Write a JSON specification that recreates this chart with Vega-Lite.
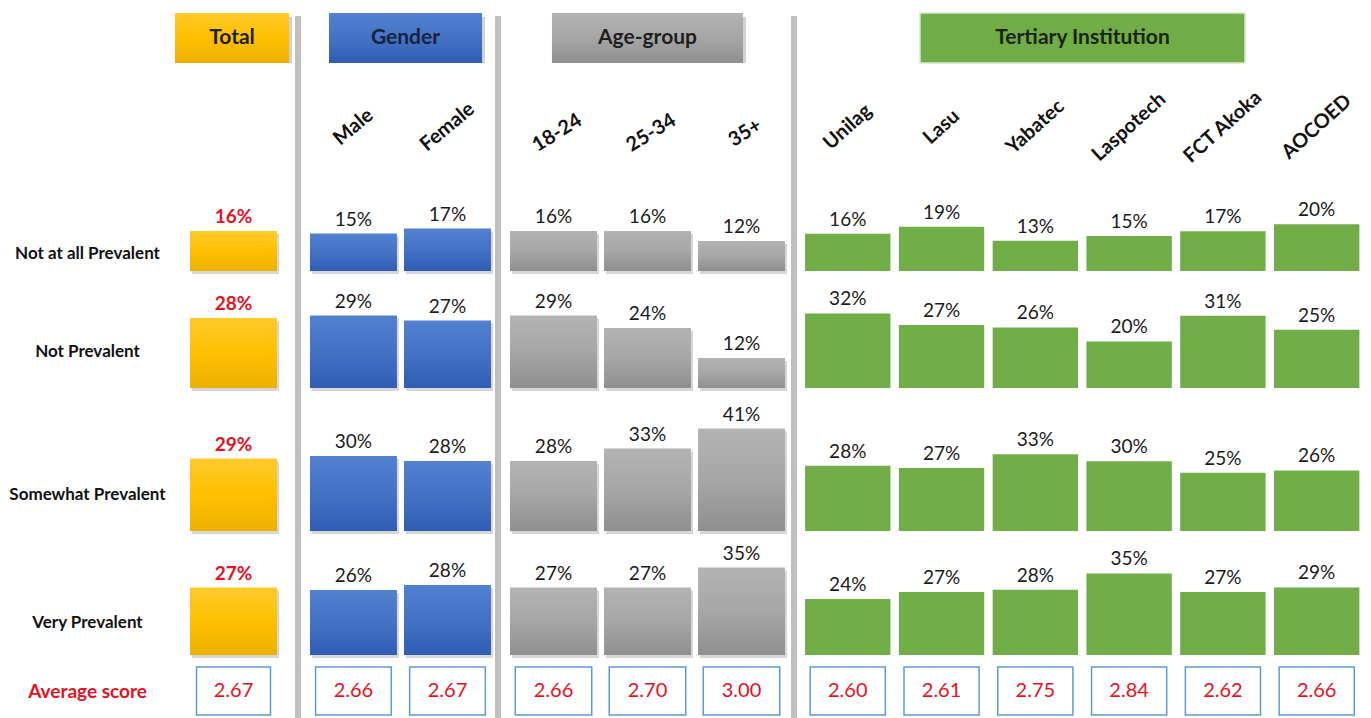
{
  "$schema": "https://vega.github.io/schema/vega-lite/v6.json",
  "padding": {"left": 0, "top": 12, "right": 0, "bottom": 0},
  "background": "white",
  "config": {"view": {"stroke": null}, "font": "Lato", "text": {"font": "Lato"}},
  "datasets": {
    "groups": [
      {"group": "Total"}, {"group": "Gender"}, {"group": "Age-group"}, {"group": "Tertiary Institution"}
    ],
    "shares": [
      {"group": "Total", "column": "Total", "response": "Not at all Prevalent", "share": 0.16},
      {"group": "Total", "column": "Total", "response": "Not Prevalent", "share": 0.28},
      {"group": "Total", "column": "Total", "response": "Somewhat Prevalent", "share": 0.29},
      {"group": "Total", "column": "Total", "response": "Very Prevalent", "share": 0.27},
      {"group": "Gender", "column": "Male", "response": "Not at all Prevalent", "share": 0.15},
      {"group": "Gender", "column": "Male", "response": "Not Prevalent", "share": 0.29},
      {"group": "Gender", "column": "Male", "response": "Somewhat Prevalent", "share": 0.30},
      {"group": "Gender", "column": "Male", "response": "Very Prevalent", "share": 0.26},
      {"group": "Gender", "column": "Female", "response": "Not at all Prevalent", "share": 0.17},
      {"group": "Gender", "column": "Female", "response": "Not Prevalent", "share": 0.27},
      {"group": "Gender", "column": "Female", "response": "Somewhat Prevalent", "share": 0.28},
      {"group": "Gender", "column": "Female", "response": "Very Prevalent", "share": 0.28},
      {"group": "Age-group", "column": "18-24", "response": "Not at all Prevalent", "share": 0.16},
      {"group": "Age-group", "column": "18-24", "response": "Not Prevalent", "share": 0.29},
      {"group": "Age-group", "column": "18-24", "response": "Somewhat Prevalent", "share": 0.28},
      {"group": "Age-group", "column": "18-24", "response": "Very Prevalent", "share": 0.27},
      {"group": "Age-group", "column": "25-34", "response": "Not at all Prevalent", "share": 0.16},
      {"group": "Age-group", "column": "25-34", "response": "Not Prevalent", "share": 0.24},
      {"group": "Age-group", "column": "25-34", "response": "Somewhat Prevalent", "share": 0.33},
      {"group": "Age-group", "column": "25-34", "response": "Very Prevalent", "share": 0.27},
      {"group": "Age-group", "column": "35+", "response": "Not at all Prevalent", "share": 0.12},
      {"group": "Age-group", "column": "35+", "response": "Not Prevalent", "share": 0.12},
      {"group": "Age-group", "column": "35+", "response": "Somewhat Prevalent", "share": 0.41},
      {"group": "Age-group", "column": "35+", "response": "Very Prevalent", "share": 0.35},
      {"group": "Tertiary Institution", "column": "Unilag", "response": "Not at all Prevalent", "share": 0.16},
      {"group": "Tertiary Institution", "column": "Unilag", "response": "Not Prevalent", "share": 0.32},
      {"group": "Tertiary Institution", "column": "Unilag", "response": "Somewhat Prevalent", "share": 0.28},
      {"group": "Tertiary Institution", "column": "Unilag", "response": "Very Prevalent", "share": 0.24},
      {"group": "Tertiary Institution", "column": "Lasu", "response": "Not at all Prevalent", "share": 0.19},
      {"group": "Tertiary Institution", "column": "Lasu", "response": "Not Prevalent", "share": 0.27},
      {"group": "Tertiary Institution", "column": "Lasu", "response": "Somewhat Prevalent", "share": 0.27},
      {"group": "Tertiary Institution", "column": "Lasu", "response": "Very Prevalent", "share": 0.27},
      {"group": "Tertiary Institution", "column": "Yabatec", "response": "Not at all Prevalent", "share": 0.13},
      {"group": "Tertiary Institution", "column": "Yabatec", "response": "Not Prevalent", "share": 0.26},
      {"group": "Tertiary Institution", "column": "Yabatec", "response": "Somewhat Prevalent", "share": 0.33},
      {"group": "Tertiary Institution", "column": "Yabatec", "response": "Very Prevalent", "share": 0.28},
      {"group": "Tertiary Institution", "column": "Laspotech", "response": "Not at all Prevalent", "share": 0.15},
      {"group": "Tertiary Institution", "column": "Laspotech", "response": "Not Prevalent", "share": 0.20},
      {"group": "Tertiary Institution", "column": "Laspotech", "response": "Somewhat Prevalent", "share": 0.30},
      {"group": "Tertiary Institution", "column": "Laspotech", "response": "Very Prevalent", "share": 0.35},
      {"group": "Tertiary Institution", "column": "FCT Akoka", "response": "Not at all Prevalent", "share": 0.17},
      {"group": "Tertiary Institution", "column": "FCT Akoka", "response": "Not Prevalent", "share": 0.31},
      {"group": "Tertiary Institution", "column": "FCT Akoka", "response": "Somewhat Prevalent", "share": 0.25},
      {"group": "Tertiary Institution", "column": "FCT Akoka", "response": "Very Prevalent", "share": 0.27},
      {"group": "Tertiary Institution", "column": "AOCOED", "response": "Not at all Prevalent", "share": 0.20},
      {"group": "Tertiary Institution", "column": "AOCOED", "response": "Not Prevalent", "share": 0.25},
      {"group": "Tertiary Institution", "column": "AOCOED", "response": "Somewhat Prevalent", "share": 0.26},
      {"group": "Tertiary Institution", "column": "AOCOED", "response": "Very Prevalent", "share": 0.29}
    ],
    "scores": [
      {"group": "Total", "column": "Total", "score": 2.67},
      {"group": "Gender", "column": "Male", "score": 2.66},
      {"group": "Gender", "column": "Female", "score": 2.67},
      {"group": "Age-group", "column": "18-24", "score": 2.66},
      {"group": "Age-group", "column": "25-34", "score": 2.70},
      {"group": "Age-group", "column": "35+", "score": 3.00},
      {"group": "Tertiary Institution", "column": "Unilag", "score": 2.60},
      {"group": "Tertiary Institution", "column": "Lasu", "score": 2.61},
      {"group": "Tertiary Institution", "column": "Yabatec", "score": 2.75},
      {"group": "Tertiary Institution", "column": "Laspotech", "score": 2.84},
      {"group": "Tertiary Institution", "column": "FCT Akoka", "score": 2.62},
      {"group": "Tertiary Institution", "column": "AOCOED", "score": 2.66}
    ]
  },
  "spacing": 0,
  "hconcat": [
    {
      "spacing": 0,
      "bounds": "flush",
      "vconcat": [
        {"width": 175, "height": 201, "data": {"values": []}, "mark": "point", "encoding": {}},
        {"width": 175, "height": 80, "data": {"name": "shares"},
         "transform": [{"filter": "datum.group === 'Total' && datum.response === 'Not at all Prevalent'"}],
         "mark": {"type": "text", "fontSize": 17, "fontWeight": "bold", "color": "#111111"},
         "encoding": {"text": {"field": "response"}}},
        {"width": 175, "height": 116, "data": {"name": "shares"},
         "transform": [{"filter": "datum.group === 'Total' && datum.response === 'Not Prevalent'"}],
         "mark": {"type": "text", "fontSize": 17, "fontWeight": "bold", "color": "#111111"},
         "encoding": {"text": {"field": "response"}}},
        {"width": 175, "height": 170, "data": {"name": "shares"},
         "transform": [{"filter": "datum.group === 'Total' && datum.response === 'Somewhat Prevalent'"}],
         "mark": {"type": "text", "fontSize": 17, "fontWeight": "bold", "color": "#111111"},
         "encoding": {"text": {"field": "response"}}},
        {"width": 175, "height": 86, "data": {"name": "shares"},
         "transform": [{"filter": "datum.group === 'Total' && datum.response === 'Very Prevalent'"}],
         "mark": {"type": "text", "fontSize": 17, "fontWeight": "bold", "color": "#111111"},
         "encoding": {"text": {"field": "response"}}},
        {"width": 175, "height": 52, "data": {"name": "groups"},
         "transform": [{"filter": "datum.group === 'Total'"}],
         "mark": {"type": "text", "text": "Average score", "fontSize": 19, "fontWeight": "bold", "color": "#e3121f"},
         "encoding": {}}
      ]
    },
    {
      "spacing": 0,
      "bounds": "flush",
      "vconcat": [
        {"width": 120, "height": 50, "data": {"name": "groups"},
         "transform": [{"filter": "datum.group === 'Total'"}],
         "encoding": {"x": {"field": "group", "type": "nominal", "axis": null, "scale": {"type": "band", "domain": ["Total"], "paddingInner": 0, "paddingOuter": 0.026, "align": 0}}},
         "layer": [
           {"mark": {"type": "bar", "color": "#000000", "opacity": 0.18, "xOffset": 3, "yOffset": 4}},
           {"mark": {"type": "bar", "fill": {"gradient": "linear", "x1": 0, "y1": 0, "x2": 0, "y2": 1, "stops": [{"offset": 0, "color": "#ffca2c"}, {"offset": 0.5, "color": "#ffc000"}, {"offset": 1, "color": "#ecb100"}]}}},
           {"mark": {"type": "text", "fontSize": 21, "fontWeight": "bold", "color": "#1f1f1f"}, "encoding": {"text": {"field": "group"}}}
         ]},
        {"width": 120, "height": 128, "data": {"values": []}, "mark": "point", "encoding": {}},
        {"width": 120, "height": 80, "data": {"name": "shares"},
         "transform": [{"filter": "datum.group === 'Total' && datum.response === 'Not at all Prevalent'"}],
         "encoding": {
           "x": {"field": "column", "type": "nominal", "axis": null, "scale": {"type": "band", "domain": ["Total"], "paddingInner": 0.075, "paddingOuter": 0.1755, "align": 0.4545}},
           "y": {"field": "share", "type": "quantitative", "axis": null, "scale": {"domain": [0, 0.32], "nice": false}}},
         "layer": [
           {"mark": {"type": "bar", "color": "#000000", "opacity": 0.16, "xOffset": 2, "yOffset": 3}},
           {"mark": {"type": "bar", "fill": {"gradient": "linear", "x1": 0, "y1": 0, "x2": 0, "y2": 1, "stops": [{"offset": 0, "color": "#ffca2c"}, {"offset": 0.5, "color": "#ffc000"}, {"offset": 1, "color": "#ecb100"}]}}},
           {"mark": {"type": "text", "baseline": "alphabetic", "dy": -8, "fontSize": 19, "fontWeight": "bold", "color": "#e3121f"}, "encoding": {"text": {"field": "share", "format": ".0%"}}}
         ]},
        {"width": 120, "height": 117, "data": {"name": "shares"},
         "transform": [{"filter": "datum.group === 'Total' && datum.response === 'Not Prevalent'"}],
         "encoding": {
           "x": {"field": "column", "type": "nominal", "axis": null, "scale": {"type": "band", "domain": ["Total"], "paddingInner": 0.075, "paddingOuter": 0.1755, "align": 0.4545}},
           "y": {"field": "share", "type": "quantitative", "axis": null, "scale": {"domain": [0, 0.468], "nice": false}}},
         "layer": [
           {"mark": {"type": "bar", "color": "#000000", "opacity": 0.16, "xOffset": 2, "yOffset": 3}},
           {"mark": {"type": "bar", "fill": {"gradient": "linear", "x1": 0, "y1": 0, "x2": 0, "y2": 1, "stops": [{"offset": 0, "color": "#ffca2c"}, {"offset": 0.5, "color": "#ffc000"}, {"offset": 1, "color": "#ecb100"}]}}},
           {"mark": {"type": "text", "baseline": "alphabetic", "dy": -8, "fontSize": 19, "fontWeight": "bold", "color": "#e3121f"}, "encoding": {"text": {"field": "share", "format": ".0%"}}}
         ]},
        {"width": 120, "height": 143, "data": {"name": "shares"},
         "transform": [{"filter": "datum.group === 'Total' && datum.response === 'Somewhat Prevalent'"}],
         "encoding": {
           "x": {"field": "column", "type": "nominal", "axis": null, "scale": {"type": "band", "domain": ["Total"], "paddingInner": 0.075, "paddingOuter": 0.1755, "align": 0.4545}},
           "y": {"field": "share", "type": "quantitative", "axis": null, "scale": {"domain": [0, 0.572], "nice": false}}},
         "layer": [
           {"mark": {"type": "bar", "color": "#000000", "opacity": 0.16, "xOffset": 2, "yOffset": 3}},
           {"mark": {"type": "bar", "fill": {"gradient": "linear", "x1": 0, "y1": 0, "x2": 0, "y2": 1, "stops": [{"offset": 0, "color": "#ffca2c"}, {"offset": 0.5, "color": "#ffc000"}, {"offset": 1, "color": "#ecb100"}]}}},
           {"mark": {"type": "text", "baseline": "alphabetic", "dy": -8, "fontSize": 19, "fontWeight": "bold", "color": "#e3121f"}, "encoding": {"text": {"field": "share", "format": ".0%"}}}
         ]},
        {"width": 120, "height": 124, "data": {"name": "shares"},
         "transform": [{"filter": "datum.group === 'Total' && datum.response === 'Very Prevalent'"}],
         "encoding": {
           "x": {"field": "column", "type": "nominal", "axis": null, "scale": {"type": "band", "domain": ["Total"], "paddingInner": 0.075, "paddingOuter": 0.1755, "align": 0.4545}},
           "y": {"field": "share", "type": "quantitative", "axis": null, "scale": {"domain": [0, 0.496], "nice": false}}},
         "layer": [
           {"mark": {"type": "bar", "color": "#000000", "opacity": 0.16, "xOffset": 2, "yOffset": 3}},
           {"mark": {"type": "bar", "fill": {"gradient": "linear", "x1": 0, "y1": 0, "x2": 0, "y2": 1, "stops": [{"offset": 0, "color": "#ffca2c"}, {"offset": 0.5, "color": "#ffc000"}, {"offset": 1, "color": "#ecb100"}]}}},
           {"mark": {"type": "text", "baseline": "alphabetic", "dy": -8, "fontSize": 19, "fontWeight": "bold", "color": "#e3121f"}, "encoding": {"text": {"field": "share", "format": ".0%"}}}
         ]},
        {"width": 120, "height": 12, "data": {"values": []}, "mark": "point", "encoding": {}},
        {"width": 120, "height": 48, "data": {"name": "scores"},
         "transform": [{"filter": "datum.group === 'Total'"}],
         "encoding": {"x": {"field": "column", "type": "nominal", "axis": null, "scale": {"type": "band", "domain": ["Total"], "paddingInner": 0.075, "paddingOuter": 0.1755, "align": 0.4545}}},
         "layer": [
           {"mark": {"type": "bar", "width": {"band": 0.85}, "fill": "#ffffff", "stroke": "#5b9bd5", "strokeWidth": 1.5}},
           {"mark": {"type": "text", "fontSize": 20, "color": "#e3121f"}, "encoding": {"text": {"field": "score", "format": ".2f"}}}
         ]}
      ]
    },
    {
      "spacing": 0,
      "bounds": "flush",
      "vconcat": [
        {"width": 6, "height": 3, "data": {"values": []}, "mark": "point", "encoding": {}},
        {"width": 6, "height": 703, "data": {"values": []}, "mark": "point", "encoding": {}, "view": {"fill": "#c0c0c0", "stroke": null}}
      ]
    },
    {
      "spacing": 0,
      "bounds": "flush",
      "vconcat": [
        {"width": 194, "height": 50, "data": {"name": "groups"},
         "transform": [{"filter": "datum.group === 'Gender'"}],
         "encoding": {"x": {"field": "group", "type": "nominal", "axis": null, "scale": {"type": "band", "domain": ["Gender"], "paddingInner": 0, "paddingOuter": 0.134, "align": 0.683}}},
         "layer": [
           {"mark": {"type": "bar", "color": "#000000", "opacity": 0.18, "xOffset": 3, "yOffset": 4}},
           {"mark": {"type": "bar", "fill": {"gradient": "linear", "x1": 0, "y1": 0, "x2": 0, "y2": 1, "stops": [{"offset": 0, "color": "#5281d0"}, {"offset": 0.5, "color": "#4472c4"}, {"offset": 1, "color": "#2f5db4"}]}}},
           {"mark": {"type": "text", "fontSize": 21, "fontWeight": "bold", "color": "#152240"}, "encoding": {"text": {"field": "group"}}}
         ]},
        {"width": 194, "height": 128, "data": {"name": "scores"},
         "transform": [{"filter": "datum.group === 'Gender'"}],
         "mark": {"type": "text", "align": "center", "baseline": "middle", "angle": 320, "fontSize": 20, "fontWeight": "bold", "color": "#111111"},
         "encoding": {
           "x": {"field": "column", "type": "nominal", "axis": null, "scale": {"type": "band", "domain": ["Male", "Female"], "paddingInner": 0.075, "paddingOuter": 0.069, "align": 0.69}},
           "text": {"field": "column"}}},
        {"width": 194, "height": 80, "data": {"name": "shares"},
         "transform": [{"filter": "datum.group === 'Gender' && datum.response === 'Not at all Prevalent'"}],
         "encoding": {
           "x": {"field": "column", "type": "nominal", "axis": null, "scale": {"type": "band", "domain": ["Male", "Female"], "paddingInner": 0.075, "paddingOuter": 0.069, "align": 0.69}},
           "y": {"field": "share", "type": "quantitative", "axis": null, "scale": {"domain": [0, 0.32], "nice": false}}},
         "layer": [
           {"mark": {"type": "bar", "color": "#000000", "opacity": 0.16, "xOffset": 2, "yOffset": 3}},
           {"mark": {"type": "bar", "fill": {"gradient": "linear", "x1": 0, "y1": 0, "x2": 0, "y2": 1, "stops": [{"offset": 0, "color": "#5281d0"}, {"offset": 0.5, "color": "#4472c4"}, {"offset": 1, "color": "#2f5db4"}]}}},
           {"mark": {"type": "text", "baseline": "alphabetic", "dy": -8, "fontSize": 19, "color": "#1a1a1a"}, "encoding": {"text": {"field": "share", "format": ".0%"}}}
         ]},
        {"width": 194, "height": 117, "data": {"name": "shares"},
         "transform": [{"filter": "datum.group === 'Gender' && datum.response === 'Not Prevalent'"}],
         "encoding": {
           "x": {"field": "column", "type": "nominal", "axis": null, "scale": {"type": "band", "domain": ["Male", "Female"], "paddingInner": 0.075, "paddingOuter": 0.069, "align": 0.69}},
           "y": {"field": "share", "type": "quantitative", "axis": null, "scale": {"domain": [0, 0.468], "nice": false}}},
         "layer": [
           {"mark": {"type": "bar", "color": "#000000", "opacity": 0.16, "xOffset": 2, "yOffset": 3}},
           {"mark": {"type": "bar", "fill": {"gradient": "linear", "x1": 0, "y1": 0, "x2": 0, "y2": 1, "stops": [{"offset": 0, "color": "#5281d0"}, {"offset": 0.5, "color": "#4472c4"}, {"offset": 1, "color": "#2f5db4"}]}}},
           {"mark": {"type": "text", "baseline": "alphabetic", "dy": -8, "fontSize": 19, "color": "#1a1a1a"}, "encoding": {"text": {"field": "share", "format": ".0%"}}}
         ]},
        {"width": 194, "height": 143, "data": {"name": "shares"},
         "transform": [{"filter": "datum.group === 'Gender' && datum.response === 'Somewhat Prevalent'"}],
         "encoding": {
           "x": {"field": "column", "type": "nominal", "axis": null, "scale": {"type": "band", "domain": ["Male", "Female"], "paddingInner": 0.075, "paddingOuter": 0.069, "align": 0.69}},
           "y": {"field": "share", "type": "quantitative", "axis": null, "scale": {"domain": [0, 0.572], "nice": false}}},
         "layer": [
           {"mark": {"type": "bar", "color": "#000000", "opacity": 0.16, "xOffset": 2, "yOffset": 3}},
           {"mark": {"type": "bar", "fill": {"gradient": "linear", "x1": 0, "y1": 0, "x2": 0, "y2": 1, "stops": [{"offset": 0, "color": "#5281d0"}, {"offset": 0.5, "color": "#4472c4"}, {"offset": 1, "color": "#2f5db4"}]}}},
           {"mark": {"type": "text", "baseline": "alphabetic", "dy": -8, "fontSize": 19, "color": "#1a1a1a"}, "encoding": {"text": {"field": "share", "format": ".0%"}}}
         ]},
        {"width": 194, "height": 124, "data": {"name": "shares"},
         "transform": [{"filter": "datum.group === 'Gender' && datum.response === 'Very Prevalent'"}],
         "encoding": {
           "x": {"field": "column", "type": "nominal", "axis": null, "scale": {"type": "band", "domain": ["Male", "Female"], "paddingInner": 0.075, "paddingOuter": 0.069, "align": 0.69}},
           "y": {"field": "share", "type": "quantitative", "axis": null, "scale": {"domain": [0, 0.496], "nice": false}}},
         "layer": [
           {"mark": {"type": "bar", "color": "#000000", "opacity": 0.16, "xOffset": 2, "yOffset": 3}},
           {"mark": {"type": "bar", "fill": {"gradient": "linear", "x1": 0, "y1": 0, "x2": 0, "y2": 1, "stops": [{"offset": 0, "color": "#5281d0"}, {"offset": 0.5, "color": "#4472c4"}, {"offset": 1, "color": "#2f5db4"}]}}},
           {"mark": {"type": "text", "baseline": "alphabetic", "dy": -8, "fontSize": 19, "color": "#1a1a1a"}, "encoding": {"text": {"field": "share", "format": ".0%"}}}
         ]},
        {"width": 194, "height": 12, "data": {"values": []}, "mark": "point", "encoding": {}},
        {"width": 194, "height": 48, "data": {"name": "scores"},
         "transform": [{"filter": "datum.group === 'Gender'"}],
         "encoding": {"x": {"field": "column", "type": "nominal", "axis": null, "scale": {"type": "band", "domain": ["Male", "Female"], "paddingInner": 0.075, "paddingOuter": 0.069, "align": 0.69}}},
         "layer": [
           {"mark": {"type": "bar", "width": {"band": 0.87}, "fill": "#ffffff", "stroke": "#5b9bd5", "strokeWidth": 1.5}},
           {"mark": {"type": "text", "fontSize": 20, "color": "#e3121f"}, "encoding": {"text": {"field": "score", "format": ".2f"}}}
         ]}
      ]
    },
    {
      "spacing": 0,
      "bounds": "flush",
      "vconcat": [
        {"width": 6, "height": 3, "data": {"values": []}, "mark": "point", "encoding": {}},
        {"width": 6, "height": 703, "data": {"values": []}, "mark": "point", "encoding": {}, "view": {"fill": "#c0c0c0", "stroke": null}}
      ]
    },
    {
      "spacing": 0,
      "bounds": "flush",
      "vconcat": [
        {"width": 290, "height": 50, "data": {"name": "groups"},
         "transform": [{"filter": "datum.group === 'Age-group'"}],
         "encoding": {"x": {"field": "group", "type": "nominal", "axis": null, "scale": {"type": "band", "domain": ["Age-group"], "paddingInner": 0, "paddingOuter": 0.259, "align": 0.515}}},
         "layer": [
           {"mark": {"type": "bar", "color": "#000000", "opacity": 0.18, "xOffset": 3, "yOffset": 4}},
           {"mark": {"type": "bar", "fill": {"gradient": "linear", "x1": 0, "y1": 0, "x2": 0, "y2": 1, "stops": [{"offset": 0, "color": "#b3b3b3"}, {"offset": 0.5, "color": "#a6a6a6"}, {"offset": 1, "color": "#8f8f8f"}]}}},
           {"mark": {"type": "text", "fontSize": 21, "fontWeight": "bold", "color": "#1f1f1f"}, "encoding": {"text": {"field": "group"}}}
         ]},
        {"width": 290, "height": 128, "data": {"name": "scores"},
         "transform": [{"filter": "datum.group === 'Age-group'"}],
         "mark": {"type": "text", "align": "center", "baseline": "middle", "angle": 328, "dy": 7, "fontSize": 20, "fontWeight": "bold", "color": "#111111"},
         "encoding": {
           "x": {"field": "column", "type": "nominal", "axis": null, "scale": {"type": "band", "domain": ["18-24", "25-34", "35+"], "paddingInner": 0.075, "paddingOuter": 0.08, "align": 0.6}},
           "text": {"field": "column"}}},
        {"width": 290, "height": 80, "data": {"name": "shares"},
         "transform": [{"filter": "datum.group === 'Age-group' && datum.response === 'Not at all Prevalent'"}],
         "encoding": {
           "x": {"field": "column", "type": "nominal", "axis": null, "scale": {"type": "band", "domain": ["18-24", "25-34", "35+"], "paddingInner": 0.075, "paddingOuter": 0.08, "align": 0.6}},
           "y": {"field": "share", "type": "quantitative", "axis": null, "scale": {"domain": [0, 0.32], "nice": false}}},
         "layer": [
           {"mark": {"type": "bar", "color": "#000000", "opacity": 0.16, "xOffset": 2, "yOffset": 3}},
           {"mark": {"type": "bar", "fill": {"gradient": "linear", "x1": 0, "y1": 0, "x2": 0, "y2": 1, "stops": [{"offset": 0, "color": "#b3b3b3"}, {"offset": 0.5, "color": "#a6a6a6"}, {"offset": 1, "color": "#8f8f8f"}]}}},
           {"mark": {"type": "text", "baseline": "alphabetic", "dy": -8, "fontSize": 19, "color": "#1a1a1a"}, "encoding": {"text": {"field": "share", "format": ".0%"}}}
         ]},
        {"width": 290, "height": 117, "data": {"name": "shares"},
         "transform": [{"filter": "datum.group === 'Age-group' && datum.response === 'Not Prevalent'"}],
         "encoding": {
           "x": {"field": "column", "type": "nominal", "axis": null, "scale": {"type": "band", "domain": ["18-24", "25-34", "35+"], "paddingInner": 0.075, "paddingOuter": 0.08, "align": 0.6}},
           "y": {"field": "share", "type": "quantitative", "axis": null, "scale": {"domain": [0, 0.468], "nice": false}}},
         "layer": [
           {"mark": {"type": "bar", "color": "#000000", "opacity": 0.16, "xOffset": 2, "yOffset": 3}},
           {"mark": {"type": "bar", "fill": {"gradient": "linear", "x1": 0, "y1": 0, "x2": 0, "y2": 1, "stops": [{"offset": 0, "color": "#b3b3b3"}, {"offset": 0.5, "color": "#a6a6a6"}, {"offset": 1, "color": "#8f8f8f"}]}}},
           {"mark": {"type": "text", "baseline": "alphabetic", "dy": -8, "fontSize": 19, "color": "#1a1a1a"}, "encoding": {"text": {"field": "share", "format": ".0%"}}}
         ]},
        {"width": 290, "height": 143, "data": {"name": "shares"},
         "transform": [{"filter": "datum.group === 'Age-group' && datum.response === 'Somewhat Prevalent'"}],
         "encoding": {
           "x": {"field": "column", "type": "nominal", "axis": null, "scale": {"type": "band", "domain": ["18-24", "25-34", "35+"], "paddingInner": 0.075, "paddingOuter": 0.08, "align": 0.6}},
           "y": {"field": "share", "type": "quantitative", "axis": null, "scale": {"domain": [0, 0.572], "nice": false}}},
         "layer": [
           {"mark": {"type": "bar", "color": "#000000", "opacity": 0.16, "xOffset": 2, "yOffset": 3}},
           {"mark": {"type": "bar", "fill": {"gradient": "linear", "x1": 0, "y1": 0, "x2": 0, "y2": 1, "stops": [{"offset": 0, "color": "#b3b3b3"}, {"offset": 0.5, "color": "#a6a6a6"}, {"offset": 1, "color": "#8f8f8f"}]}}},
           {"mark": {"type": "text", "baseline": "alphabetic", "dy": -8, "fontSize": 19, "color": "#1a1a1a"}, "encoding": {"text": {"field": "share", "format": ".0%"}}}
         ]},
        {"width": 290, "height": 124, "data": {"name": "shares"},
         "transform": [{"filter": "datum.group === 'Age-group' && datum.response === 'Very Prevalent'"}],
         "encoding": {
           "x": {"field": "column", "type": "nominal", "axis": null, "scale": {"type": "band", "domain": ["18-24", "25-34", "35+"], "paddingInner": 0.075, "paddingOuter": 0.08, "align": 0.6}},
           "y": {"field": "share", "type": "quantitative", "axis": null, "scale": {"domain": [0, 0.496], "nice": false}}},
         "layer": [
           {"mark": {"type": "bar", "color": "#000000", "opacity": 0.16, "xOffset": 2, "yOffset": 3}},
           {"mark": {"type": "bar", "fill": {"gradient": "linear", "x1": 0, "y1": 0, "x2": 0, "y2": 1, "stops": [{"offset": 0, "color": "#b3b3b3"}, {"offset": 0.5, "color": "#a6a6a6"}, {"offset": 1, "color": "#8f8f8f"}]}}},
           {"mark": {"type": "text", "baseline": "alphabetic", "dy": -8, "fontSize": 19, "color": "#1a1a1a"}, "encoding": {"text": {"field": "share", "format": ".0%"}}}
         ]},
        {"width": 290, "height": 12, "data": {"values": []}, "mark": "point", "encoding": {}},
        {"width": 290, "height": 48, "data": {"name": "scores"},
         "transform": [{"filter": "datum.group === 'Age-group'"}],
         "encoding": {"x": {"field": "column", "type": "nominal", "axis": null, "scale": {"type": "band", "domain": ["18-24", "25-34", "35+"], "paddingInner": 0.075, "paddingOuter": 0.08, "align": 0.6}}},
         "layer": [
           {"mark": {"type": "bar", "width": {"band": 0.88}, "fill": "#ffffff", "stroke": "#5b9bd5", "strokeWidth": 1.5}},
           {"mark": {"type": "text", "fontSize": 20, "color": "#e3121f"}, "encoding": {"text": {"field": "score", "format": ".2f"}}}
         ]}
      ]
    },
    {
      "spacing": 0,
      "bounds": "flush",
      "vconcat": [
        {"width": 6, "height": 3, "data": {"values": []}, "mark": "point", "encoding": {}},
        {"width": 6, "height": 703, "data": {"values": []}, "mark": "point", "encoding": {}, "view": {"fill": "#c0c0c0", "stroke": null}}
      ]
    },
    {
      "spacing": 0,
      "bounds": "flush",
      "vconcat": [
        {"width": 574, "height": 50, "data": {"name": "groups"},
         "transform": [{"filter": "datum.group === 'Tertiary Institution'"}],
         "encoding": {"x": {"field": "group", "type": "nominal", "axis": null, "scale": {"type": "band", "domain": ["Tertiary Institution"], "paddingInner": 0, "paddingOuter": 0.383, "align": 0.494}}},
         "layer": [
           {"mark": {"type": "bar", "fill": "#70ad47", "stroke": "#d9e8cf", "strokeWidth": 1.5}},
           {"mark": {"type": "text", "fontSize": 21, "fontWeight": "bold", "color": "#1a2410"}, "encoding": {"text": {"field": "group"}}}
         ]},
        {"width": 574, "height": 128, "data": {"name": "scores"},
         "transform": [{"filter": "datum.group === 'Tertiary Institution'"}],
         "mark": {"type": "text", "align": "center", "baseline": "middle", "angle": 318, "fontSize": 20, "fontWeight": "bold", "color": "#111111"},
         "encoding": {
           "x": {"field": "column", "type": "nominal", "axis": null, "scale": {"type": "band", "domain": ["Unilag", "Lasu", "Yabatec", "Laspotech", "FCT Akoka", "AOCOED"], "paddingInner": 0.09, "paddingOuter": 0.105, "align": 0.41}},
           "text": {"field": "column"}}},
        {"width": 574, "height": 80, "data": {"name": "shares"},
         "transform": [{"filter": "datum.group === 'Tertiary Institution' && datum.response === 'Not at all Prevalent'"}],
         "encoding": {
           "x": {"field": "column", "type": "nominal", "axis": null, "scale": {"type": "band", "domain": ["Unilag", "Lasu", "Yabatec", "Laspotech", "FCT Akoka", "AOCOED"], "paddingInner": 0.09, "paddingOuter": 0.105, "align": 0.41}},
           "y": {"field": "share", "type": "quantitative", "axis": null, "scale": {"domain": [0, 0.343], "nice": false}}},
         "layer": [
           {"mark": {"type": "bar", "fill": "#70ad47"}},
           {"mark": {"type": "text", "baseline": "alphabetic", "dy": -8, "fontSize": 19, "color": "#1a1a1a"}, "encoding": {"text": {"field": "share", "format": ".0%"}}}
         ]},
        {"width": 574, "height": 117, "data": {"name": "shares"},
         "transform": [{"filter": "datum.group === 'Tertiary Institution' && datum.response === 'Not Prevalent'"}],
         "encoding": {
           "x": {"field": "column", "type": "nominal", "axis": null, "scale": {"type": "band", "domain": ["Unilag", "Lasu", "Yabatec", "Laspotech", "FCT Akoka", "AOCOED"], "paddingInner": 0.09, "paddingOuter": 0.105, "align": 0.41}},
           "y": {"field": "share", "type": "quantitative", "axis": null, "scale": {"domain": [0, 0.502], "nice": false}}},
         "layer": [
           {"mark": {"type": "bar", "fill": "#70ad47"}},
           {"mark": {"type": "text", "baseline": "alphabetic", "dy": -8, "fontSize": 19, "color": "#1a1a1a"}, "encoding": {"text": {"field": "share", "format": ".0%"}}}
         ]},
        {"width": 574, "height": 143, "data": {"name": "shares"},
         "transform": [{"filter": "datum.group === 'Tertiary Institution' && datum.response === 'Somewhat Prevalent'"}],
         "encoding": {
           "x": {"field": "column", "type": "nominal", "axis": null, "scale": {"type": "band", "domain": ["Unilag", "Lasu", "Yabatec", "Laspotech", "FCT Akoka", "AOCOED"], "paddingInner": 0.09, "paddingOuter": 0.105, "align": 0.41}},
           "y": {"field": "share", "type": "quantitative", "axis": null, "scale": {"domain": [0, 0.614], "nice": false}}},
         "layer": [
           {"mark": {"type": "bar", "fill": "#70ad47"}},
           {"mark": {"type": "text", "baseline": "alphabetic", "dy": -8, "fontSize": 19, "color": "#1a1a1a"}, "encoding": {"text": {"field": "share", "format": ".0%"}}}
         ]},
        {"width": 574, "height": 124, "data": {"name": "shares"},
         "transform": [{"filter": "datum.group === 'Tertiary Institution' && datum.response === 'Very Prevalent'"}],
         "encoding": {
           "x": {"field": "column", "type": "nominal", "axis": null, "scale": {"type": "band", "domain": ["Unilag", "Lasu", "Yabatec", "Laspotech", "FCT Akoka", "AOCOED"], "paddingInner": 0.09, "paddingOuter": 0.105, "align": 0.41}},
           "y": {"field": "share", "type": "quantitative", "axis": null, "scale": {"domain": [0, 0.532], "nice": false}}},
         "layer": [
           {"mark": {"type": "bar", "fill": "#70ad47"}},
           {"mark": {"type": "text", "baseline": "alphabetic", "dy": -8, "fontSize": 19, "color": "#1a1a1a"}, "encoding": {"text": {"field": "share", "format": ".0%"}}}
         ]},
        {"width": 574, "height": 12, "data": {"values": []}, "mark": "point", "encoding": {}},
        {"width": 574, "height": 48, "data": {"name": "scores"},
         "transform": [{"filter": "datum.group === 'Tertiary Institution'"}],
         "encoding": {"x": {"field": "column", "type": "nominal", "axis": null, "scale": {"type": "band", "domain": ["Unilag", "Lasu", "Yabatec", "Laspotech", "FCT Akoka", "AOCOED"], "paddingInner": 0.09, "paddingOuter": 0.105, "align": 0.41}}},
         "layer": [
           {"mark": {"type": "bar", "width": {"band": 0.88}, "fill": "#ffffff", "stroke": "#5b9bd5", "strokeWidth": 1.5}},
           {"mark": {"type": "text", "fontSize": 20, "color": "#e3121f"}, "encoding": {"text": {"field": "score", "format": ".2f"}}}
         ]}
      ]
    }
  ]
}
